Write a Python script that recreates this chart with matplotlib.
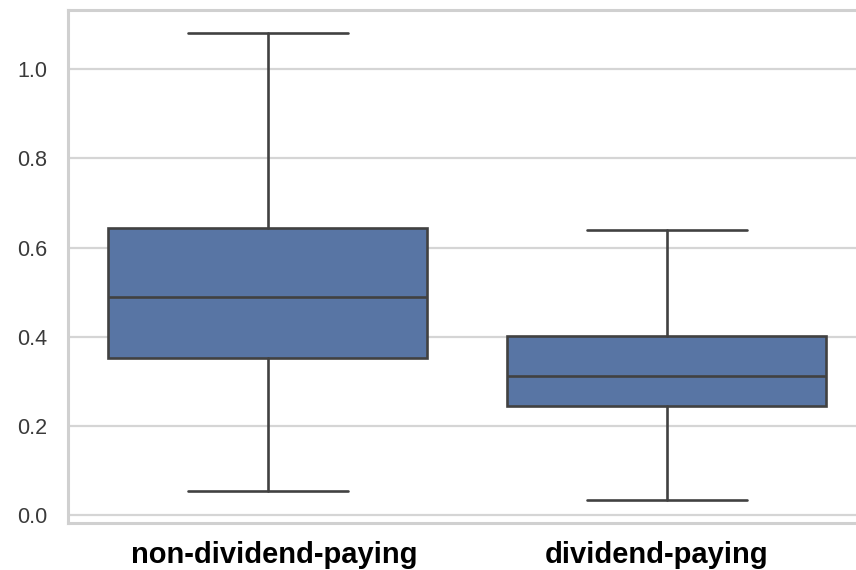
import matplotlib
matplotlib.use("Agg")
import matplotlib.pyplot as plt
import matplotlib.transforms as mtransforms
import seaborn as sns

# summary statistics per group
groups = ["non-dividend-paying", "dividend-paying"]
whislo = [0.054, 0.034]
q1 = [0.351, 0.245]
med = [0.488, 0.312]
q3 = [0.643, 0.402]
whishi = [1.081, 0.640]

sns.set_theme(style="whitegrid")
plt.rcParams["font.family"] = ["Liberation Sans", "DejaVu Sans"]

fig = plt.figure(figsize=(8.56, 5.70), dpi=100)
ax = fig.add_axes([0.080, 0.0825, 0.932, 0.900])

stats = []
for i, g in enumerate(groups):
    stats.append(dict(label=g, whislo=whislo[i], q1=q1[i], med=med[i],
                      q3=q3[i], whishi=whishi[i], fliers=[]))

line_col = "#414141"
ax.bxp(stats, positions=[0, 1], widths=0.8, patch_artist=True,
       showfliers=False,
       boxprops=dict(facecolor="#5875a4", edgecolor=line_col, linewidth=1.9),
       medianprops=dict(color=line_col, linewidth=1.9),
       whiskerprops=dict(color=line_col, linewidth=1.9),
       capprops=dict(color=line_col, linewidth=1.9))

ax.set_xlim(-0.5, 1.5)
lo, hi = min(whislo), max(whishi)
pad = (hi - lo) * 0.05
ax.set_ylim(lo - pad, hi + pad)
ax.set_yticks([0.0, 0.2, 0.4, 0.6, 0.8, 1.0])
ax.set_yticklabels(["0.0", "0.2", "0.4", "0.6", "0.8", "1.0"])

ax.grid(axis="y", color="#d5d5d5", linewidth=1.6)
ax.grid(axis="x", visible=False)
ax.set_axisbelow(True)
for s in ax.spines.values():
    s.set_color("#d0d0d0")
    s.set_linewidth(2.2)

ax.tick_params(axis="y", labelsize=15.5, labelcolor="#3a3a3a", length=0, pad=15.5)
ax.tick_params(axis="x", labelsize=21, length=0, pad=13)

# nudge the category labels a little sideways
shifts = [6.5, -10.5]
for lab, dx in zip(ax.get_xticklabels(), shifts):
    lab.set_fontweight("bold")
    lab.set_color("black")
    lab.set_transform(lab.get_transform() +
                      mtransforms.ScaledTranslation(dx / 100, 0, fig.dpi_scale_trans))

fig.savefig("out.png", dpi=100)
